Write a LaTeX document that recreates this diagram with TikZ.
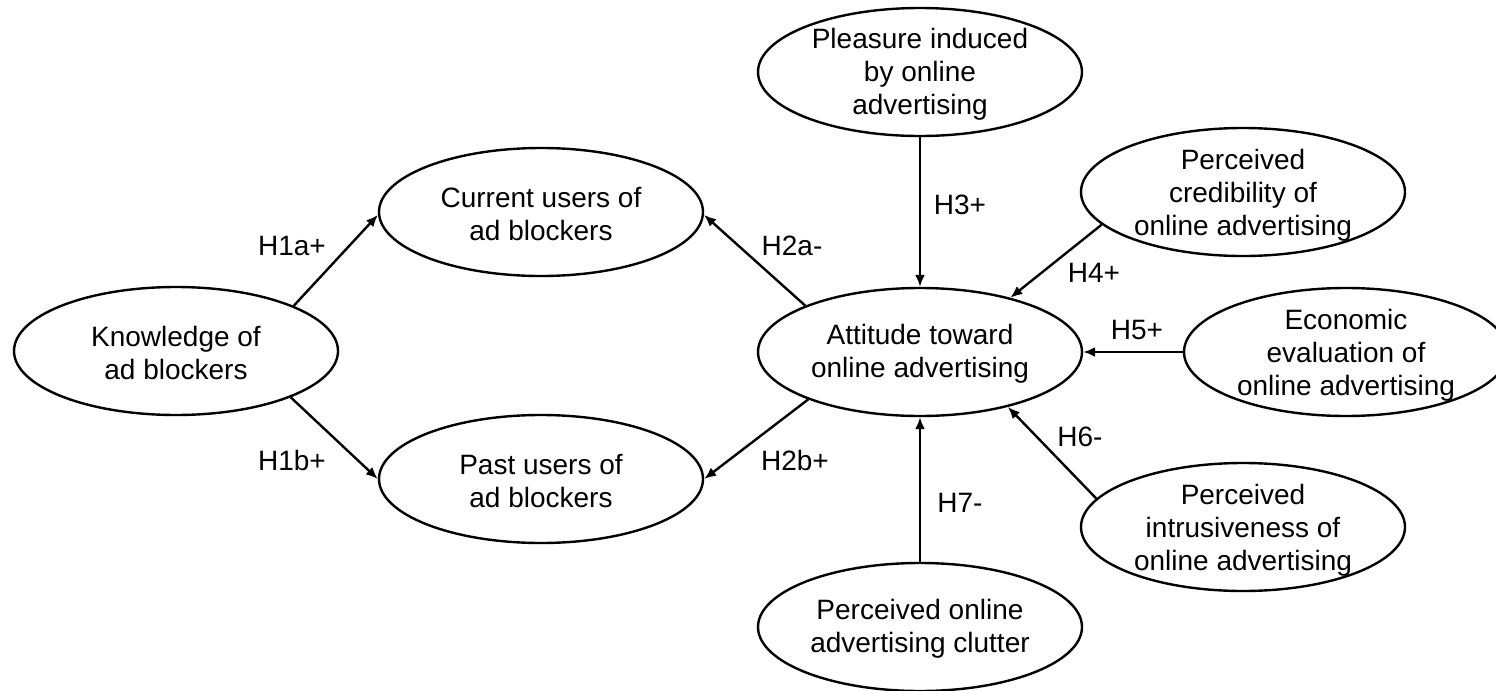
\documentclass[tikz,border=0pt]{standalone}
\usepackage{fontspec}
\setmainfont{Liberation Sans}
\usetikzlibrary{shapes.geometric,arrows.meta}
\begin{document}
\begin{tikzpicture}[x=0.5pt,y=-0.5pt,
  ell/.style={draw, ellipse, line width=1.2pt, inner sep=0pt, minimum width=162pt, minimum height=64pt},
  txt/.style={align=center, inner sep=0pt, font=\fontsize{14}{16.5}\selectfont},
  hyp/.style={inner sep=0pt, font=\fontsize{14}{16.5}\selectfont},
  arr/.style={-{Latex[length=6pt,width=5pt]}, line width=1.2pt}]
\fill[white] (0,0) rectangle (1496,691);
\useasboundingbox (0,0) rectangle (1496,691);

% ellipses
\node[ell] (k) at (176,351) {};
\node[ell] (c) at (541,212) {};
\node[ell] (p) at (541,479) {};
\node[ell] (a) at (920,352) {};
\node[ell] (pl) at (920,72) {};
\node[ell] (cr) at (1243,192) {};
\node[ell] (ec) at (1346,352) {};
\node[ell] (in) at (1243,527) {};
\node[ell] (cl) at (920,627) {};

% texts
\node[txt] (kt) at ([yshift=-1pt]k.center) {Knowledge of\\ad blockers};
\node[txt] (ct) at ([yshift=-1pt]c.center) {Current users of\\ad blockers};
\node[txt] (pt) at ([yshift=-1pt]p.center) {Past users of\\ad blockers};
\node[txt] (at) at ([yshift=-1pt]a.center) {Attitude toward\\online advertising};
\node[txt] (plt) at ([yshift=-1pt]pl.center) {Pleasure induced\\by online\\advertising};
\node[txt] (crt) at ([yshift=-1.5pt]cr.center) {Perceived\\credibility of\\online advertising};
\node[txt] (ect) at ([yshift=-1.5pt]ec.center) {Economic\\evaluation of\\online advertising};
\node[txt] (int) at ([yshift=-1.5pt]in.center) {Perceived\\intrusiveness of\\online advertising};
\node[txt] (clt) at ([yshift=-1pt]cl.center) {Perceived online\\advertising clutter};

% connectors
\draw[arr] (k.21.6) -- (c.181);
\draw[arr] (k.-22) -- (p.180);
\draw[arr] (a.158.6) -- (c.-1);
\draw[arr] (a.-157.3) -- (p.0.5);
\draw[arr] (pl.south) -- (a.north);
\draw[arr] (cr.193.8) -- (a.31.4);
\draw[arr] (ec.west) -- (a.east);
\draw[arr] (in.169.1) -- (a.-32.2);
\draw[arr] (cl.north) -- (a.south);

% labels
\node[hyp] (h1a) at (292,246) {H1a+};
\node[hyp] (h1b) at (292,460) {H1b+};
\node[hyp] (h2a) at (792,246) {H2a-};
\node[hyp] (h2b) at (795,460) {H2b+};
\node[hyp] (h3) at (960,205) {H3+};
\node[hyp] (h4) at (1094,273) {H4+};
\node[hyp] (h5) at (1137,330) {H5+};
\node[hyp] (h6) at (1080,437) {H6-};
\node[hyp] (h7) at (960,503) {H7-};
\end{tikzpicture}
\end{document}
